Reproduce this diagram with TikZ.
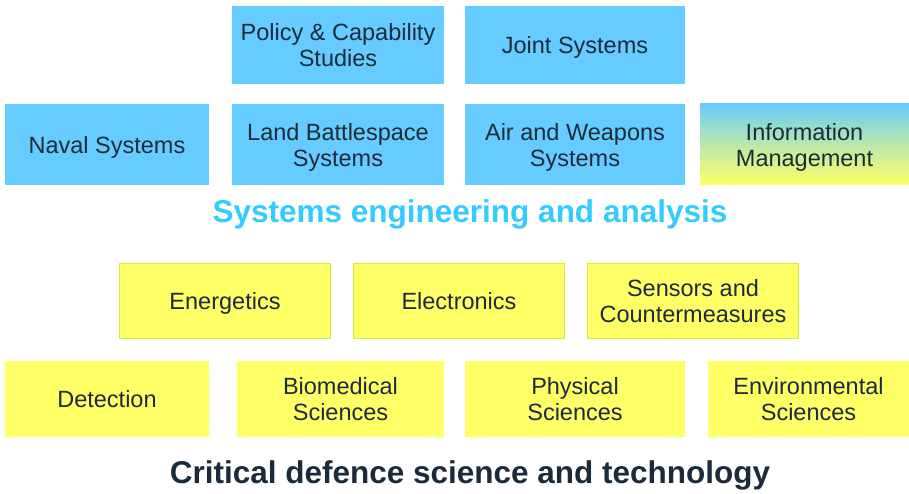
\documentclass[tikz,border=0pt]{standalone}
\usepackage{fontspec}
\setmainfont{Liberation Sans}
\definecolor{boxblue}{HTML}{66CCFF}
\definecolor{boxyellow}{HTML}{FFFF66}
\definecolor{yedge}{HTML}{CCF03C}
\definecolor{txt}{HTML}{1C2B3A}
\definecolor{titleblue}{HTML}{33CCFF}
\begin{document}
\begin{tikzpicture}[x=1pt,y=-1pt,
  box/.style={rectangle, inner sep=0pt, align=center, text=txt, text depth=0pt,
    font=\fontsize{23.5}{26}\selectfont},
  bluebox/.style={box, fill=boxblue},
  yelbox/.style={box, fill=boxyellow},
  yeledge/.style={yelbox, draw=yedge, line width=1pt},
  gradbox/.style={box, top color=boxblue, bottom color=boxyellow, middle color=boxblue!45!boxyellow},
  titlestyle/.style={font=\fontsize{31.5}{34}\selectfont\bfseries, inner sep=0pt}]
\useasboundingbox (0,0) rectangle (909,494);
% systems row 1
\node[bluebox, minimum width=212pt, minimum height=78pt] (policy) at (338,45) {Policy \& Capability\\Studies};
\node[bluebox, minimum width=220pt, minimum height=78pt] (joint) at (575,45) {Joint Systems};
% systems row 2
\node[bluebox, minimum width=204pt, minimum height=81pt] (naval) at (107,144.5) {Naval Systems};
\node[bluebox, minimum width=212pt, minimum height=81pt] (land) at (338,144.5) {Land Battlespace\\Systems};
\node[bluebox, minimum width=220pt, minimum height=81pt] (air) at (575,144.5) {Air and Weapons\\Systems};
\node[gradbox, minimum width=209pt, minimum height=81pt] (info) at (804.5,144.5) {Information\\Management};
\node[titlestyle, text=titleblue] (title1) at (470,214) {Systems engineering and analysis};
% science row 1
\node[yeledge, minimum width=211pt, minimum height=75pt] (energ) at (225,301) {Energetics};
\node[yeledge, minimum width=211pt, minimum height=75pt] (elec) at (459,301) {Electronics};
\node[yeledge, minimum width=211pt, minimum height=75pt] (sens) at (693,301) {Sensors and\\Countermeasures};
% science row 2
\node[yelbox, minimum width=204pt, minimum height=76pt] (detect) at (107,399) {Detection};
\node[yelbox, minimum width=207pt, minimum height=76pt] (bio) at (340.5,399) {Biomedical\\Sciences};
\node[yelbox, minimum width=220pt, minimum height=76pt] (phys) at (575,399) {Physical\\Sciences};
\node[yelbox, minimum width=201pt, minimum height=76pt] (env) at (808.5,399) {Environmental\\Sciences};
\node[titlestyle, text=txt] (title2) at (470,475) {Critical defence science and technology};
\end{tikzpicture}
\end{document}
